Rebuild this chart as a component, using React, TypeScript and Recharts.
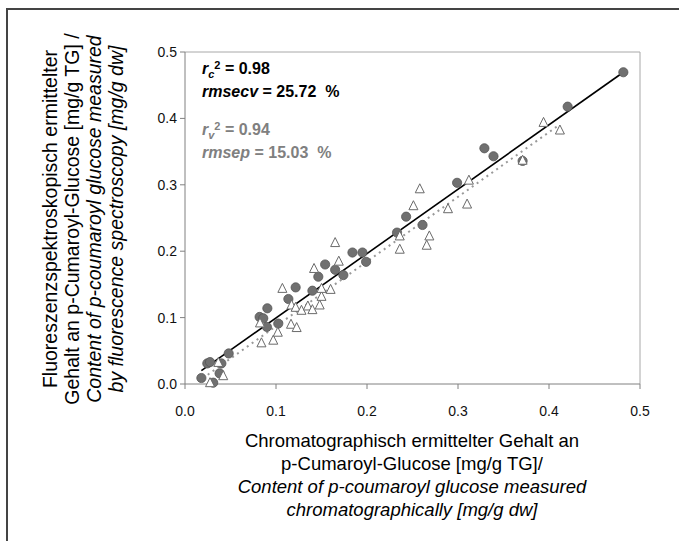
import React from 'react';
import {
  ScatterChart,
  Scatter,
  XAxis,
  YAxis,
  ReferenceLine,
} from 'recharts';

// calibration set (filled circles)
const calX = [0.018, 0.031, 0.0245, 0.0275, 0.038, 0.040, 0.048, 0.082, 0.086, 0.0905, 0.090, 0.1025, 0.1136, 0.1216, 0.140, 0.1465, 0.154, 0.165, 0.174, 0.184, 0.195, 0.199, 0.233, 0.243, 0.261, 0.299, 0.329, 0.339, 0.371, 0.4205, 0.4817];
const calY = [0.009, 0.002, 0.031, 0.033, 0.016, 0.031, 0.046, 0.101, 0.099, 0.114, 0.086, 0.091, 0.128, 0.1455, 0.1405, 0.1616, 0.180, 0.172, 0.164, 0.198, 0.198, 0.184, 0.228, 0.252, 0.2395, 0.303, 0.355, 0.343, 0.336, 0.4177, 0.4695];

// validation set (open triangles)
const valX = [0.0275, 0.042, 0.0366, 0.0824, 0.084, 0.097, 0.102, 0.107, 0.1165, 0.1227, 0.117, 0.1216, 0.128, 0.135, 0.140, 0.1418, 0.148, 0.150, 0.150, 0.160, 0.165, 0.169, 0.236, 0.236, 0.251, 0.258, 0.2656, 0.2685, 0.289, 0.31, 0.312, 0.371, 0.394, 0.412];
const valY = [0.002, 0.0125, 0.0325, 0.092, 0.062, 0.066, 0.078, 0.144, 0.090, 0.085, 0.119, 0.1155, 0.111, 0.1175, 0.112, 0.174, 0.119, 0.132, 0.144, 0.1425, 0.213, 0.185, 0.223, 0.203, 0.2685, 0.294, 0.209, 0.223, 0.264, 0.271, 0.307, 0.337, 0.394, 0.3825];

// regression lines: [x, y] end points
const calLine = [[0.018, 0.020], [0.4817, 0.4695]];
const valLine = [[0.025, 0.014], [0.41, 0.389]];

const ticks = [0, 0.1, 0.2, 0.3, 0.4, 0.5];

const calData = calX.map((x, i) => ({ x, y: calY[i] }));
const valData = valX.map((x, i) => ({ x, y: valY[i] }));

const FONT = '"Liberation Sans", Arial, sans-serif';

const Circle = (props: any) => {
  const { cx, cy } = props;
  if (cx == null || cy == null) return null;
  return <circle cx={cx} cy={cy} r={4.6} fill="#707070" stroke="#555" strokeWidth={0.8} />;
};

const Triangle = (props: any) => {
  const { cx, cy } = props;
  if (cx == null || cy == null) return null;
  return (
    <path
      d={`M${cx},${cy - 5} L${cx - 4.5},${cy + 4} L${cx + 4.5},${cy + 4} Z`}
      fill="#fff"
      stroke="#6a6a6a"
      strokeWidth={1}
    />
  );
};

const fmt = (v: number) => v.toFixed(1);

export default function App() {
  return (
    <div style={{ position: 'absolute', left: 0, top: 0, width: 679, height: 541, overflow: 'hidden', background: '#fff', fontFamily: FONT }}>
      <div style={{ position: 'absolute', left: 6, top: 8, width: 700, height: 560, borderLeft: '2px solid #444', borderTop: '2px solid #444' }} />
      <div style={{ position: 'absolute', left: 0, top: 0 }}>
        <ScatterChart width={679} height={541} margin={{ top: 52, right: 39, bottom: 127, left: 0 }}>
          <XAxis
            type="number"
            dataKey="x"
            domain={[0, 0.5]}
            ticks={ticks}
            tickFormatter={fmt}
            height={30}
            stroke="#808080"
            tickSize={5}
            tickMargin={17}
            tick={{ fill: '#111', fontSize: 14, fontFamily: '"Liberation Sans Narrow", "Liberation Sans", Arial' }}
          />
          <YAxis
            type="number"
            dataKey="y"
            domain={[0, 0.5]}
            ticks={ticks}
            tickFormatter={fmt}
            width={185}
            stroke="#808080"
            tickSize={5}
            tickMargin={3}
            tick={{ fill: '#111', fontSize: 14, fontFamily: '"Liberation Sans Narrow", "Liberation Sans", Arial' }}
          />
          <ReferenceLine y={0.5} stroke="#a8a8a8" />
          <ReferenceLine x={0.5} stroke="#a8a8a8" />
          <Scatter data={calData} shape={Circle} isAnimationActive={false} />
          <Scatter data={valData} shape={Triangle} isAnimationActive={false} />
          <ReferenceLine
            segment={[{ x: valLine[0][0], y: valLine[0][1] }, { x: valLine[1][0], y: valLine[1][1] }]}
            stroke="#999"
            strokeWidth={2}
            strokeDasharray="2 4"
          />
          <ReferenceLine
            segment={[{ x: calLine[0][0], y: calLine[0][1] }, { x: calLine[1][0], y: calLine[1][1] }]}
            stroke="#000"
            strokeWidth={1.6}
          />
        </ScatterChart>
      </div>

      {/* statistics */}
      <div style={{ position: 'absolute', left: 202, top: 58, fontSize: 16, fontWeight: 'bold', color: '#000', lineHeight: '21px', whiteSpace: 'pre' }}>
        <div>
          <i>r</i>
          <i style={{ fontSize: 11, position: 'relative', top: 4 }}>c</i>
          <span style={{ fontSize: 11, position: 'relative', top: -5 }}>2</span>
          {' = 0.98'}
        </div>
        <div><i>rmsecv</i>{' = 25.72  %'}</div>
      </div>
      <div style={{ position: 'absolute', left: 202, top: 119, fontSize: 16, fontWeight: 'bold', color: '#808080', lineHeight: '21px', whiteSpace: 'pre' }}>
        <div>
          <i>r</i>
          <i style={{ fontSize: 11, position: 'relative', top: 4 }}>v</i>
          <span style={{ fontSize: 11, position: 'relative', top: -5 }}>2</span>
          {' = 0.94'}
        </div>
        <div><i>rmsep</i>{' = 15.03  %'}</div>
      </div>

      {/* y axis title */}
      <div
        style={{
          position: 'absolute',
          left: 83 - 250,
          top: 219 - 44,
          width: 500,
          height: 88,
          transform: 'rotate(-90deg)',
          textAlign: 'center',
          fontSize: 19.5,
          lineHeight: '22px',
          color: '#000',
        }}
      >
        <div>Fluoreszenzspektroskopisch ermittelter</div>
        <div>Gehalt an p-Cumaroyl-Glucose [mg/g TG] /</div>
        <div><i>Content of p-coumaroyl glucose measured</i></div>
        <div><i>by fluorescence spectroscopy [mg/g dw]</i></div>
      </div>

      {/* x axis title */}
      <div style={{ position: 'absolute', left: 412 - 250, top: 429, width: 500, textAlign: 'center', fontSize: 18.5, lineHeight: '23px', color: '#000' }}>
        <div>Chromatographisch ermittelter Gehalt an</div>
        <div>p-Cumaroyl-Glucose [mg/g TG]/</div>
        <div><i>Content of p-coumaroyl glucose measured</i></div>
        <div><i>chromatographically [mg/g dw]</i></div>
      </div>
    </div>
  );
}
